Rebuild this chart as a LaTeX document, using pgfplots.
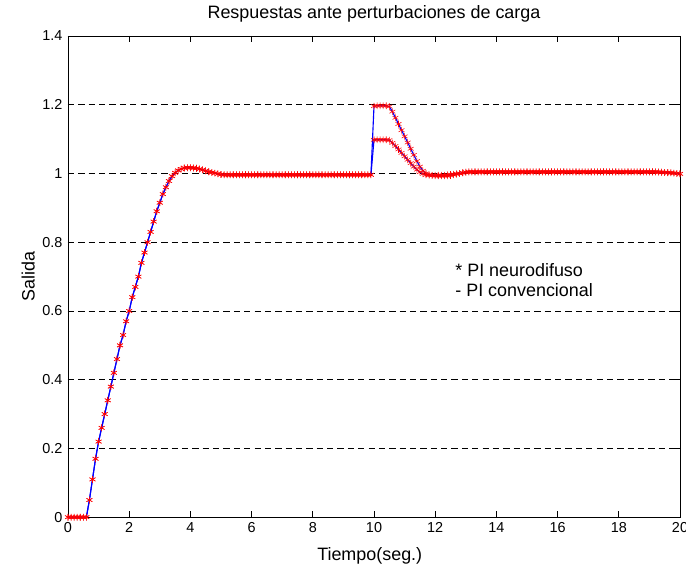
\documentclass[border=0pt]{standalone}
\usepackage{pgfplots}
\pgfplotsset{compat=1.18}
\usepackage{pgfplotstable}
\usepackage{fontspec}
\setmainfont{Liberation Sans}

\pgfplotstableread[row sep=\\]{
t a b\\
0 0 0\\ 0.1 0 0\\ 0.2 0 0\\ 0.3 0 0\\ 0.4 0 0\\ 0.5 0 0\\ 0.6 0 0\\
0.7 0.05 0.05\\ 0.8 0.11 0.11\\ 0.9 0.17 0.17\\ 1.0 0.22 0.22\\ 1.1 0.26 0.26\\
1.2 0.30 0.30\\ 1.3 0.34 0.34\\ 1.4 0.38 0.38\\ 1.5 0.42 0.42\\ 1.6 0.46 0.46\\
1.7 0.50 0.50\\ 1.8 0.53 0.53\\ 1.9 0.57 0.57\\ 2.0 0.60 0.60\\ 2.1 0.64 0.64\\
2.2 0.67 0.67\\ 2.3 0.70 0.70\\ 2.4 0.74 0.74\\ 2.5 0.77 0.77\\ 2.6 0.80 0.80\\
2.7 0.83 0.83\\ 2.8 0.86 0.86\\ 2.9 0.89 0.89\\ 3.0 0.915 0.915\\ 3.1 0.94 0.94\\
3.2 0.96 0.96\\ 3.3 0.978 0.978\\ 3.4 0.992 0.992\\ 3.5 1.002 1.002\\ 3.6 1.009 1.009\\
3.7 1.013 1.013\\ 3.8 1.016 1.016\\ 3.9 1.017 1.017\\ 4.0 1.017 1.017\\ 4.1 1.016 1.016\\
4.2 1.015 1.015\\ 4.3 1.013 1.013\\ 4.4 1.011 1.011\\ 4.5 1.008 1.008\\ 4.6 1.005 1.005\\
4.7 1.003 1.003\\ 4.8 1.001 1.001\\ 4.9 0.999 0.999\\ 5.0 0.997 0.997\\
5.1 0.996 0.996\\ 5.2 0.996 0.996\\ 5.3 0.996 0.996\\ 5.4 0.996 0.996\\ 5.5 0.996 0.996\\
5.6 0.996 0.996\\ 5.7 0.996 0.996\\ 5.8 0.996 0.996\\ 5.9 0.996 0.996\\ 6.0 0.996 0.996\\
6.1 0.996 0.996\\ 6.2 0.996 0.996\\ 6.3 0.996 0.996\\ 6.4 0.996 0.996\\ 6.5 0.996 0.996\\
6.6 0.996 0.996\\ 6.7 0.996 0.996\\ 6.8 0.996 0.996\\ 6.9 0.996 0.996\\ 7.0 0.996 0.996\\
7.1 0.996 0.996\\ 7.2 0.996 0.996\\ 7.3 0.996 0.996\\ 7.4 0.996 0.996\\ 7.5 0.996 0.996\\
7.6 0.996 0.996\\ 7.7 0.996 0.996\\ 7.8 0.996 0.996\\ 7.9 0.996 0.996\\ 8.0 0.996 0.996\\
8.1 0.996 0.996\\ 8.2 0.996 0.996\\ 8.3 0.996 0.996\\ 8.4 0.996 0.996\\ 8.5 0.996 0.996\\
8.6 0.996 0.996\\ 8.7 0.996 0.996\\ 8.8 0.996 0.996\\ 8.9 0.996 0.996\\ 9.0 0.996 0.996\\
9.1 0.996 0.996\\ 9.2 0.996 0.996\\ 9.3 0.996 0.996\\ 9.4 0.996 0.996\\ 9.5 0.996 0.996\\
9.6 0.996 0.996\\ 9.7 0.996 0.996\\ 9.8 0.996 0.996\\ 9.9 0.996 0.996\\
10.0 1.196 1.098\\ 10.1 1.197 1.098\\ 10.2 1.197 1.098\\ 10.3 1.197 1.098\\ 10.4 1.197 1.098\\
10.5 1.195 1.097\\ 10.6 1.180 1.089\\ 10.7 1.162 1.080\\ 10.8 1.144 1.070\\ 10.9 1.126 1.060\\
11.0 1.108 1.050\\ 11.1 1.090 1.040\\ 11.2 1.072 1.030\\ 11.3 1.054 1.020\\ 11.4 1.036 1.011\\
11.5 1.020 1.004\\ 11.6 1.008 0.999\\ 11.7 1.000 0.996\\ 11.8 0.996 0.995\\ 11.9 0.994 0.995\\
12.0 0.993 0.995\\ 12.1 0.993 0.995\\ 12.2 0.993 0.995\\ 12.3 0.993 0.995\\ 12.4 0.993 0.996\\
12.5 0.994 0.997\\ 12.6 0.996 0.998\\ 12.7 0.998 0.999\\ 12.8 1.000 1.000\\ 12.9 1.002 1.002\\
13.0 1.004 1.003\\ 13.1 1.005 1.004\\ 13.2 1.005 1.004\\ 13.3 1.005 1.004\\ 13.4 1.005 1.004\\
13.5 1.005 1.004\\ 13.6 1.005 1.004\\ 13.7 1.005 1.004\\ 13.8 1.005 1.004\\ 13.9 1.005 1.004\\
14.0 1.005 1.004\\ 14.1 1.005 1.004\\ 14.2 1.005 1.004\\ 14.3 1.005 1.004\\ 14.4 1.005 1.004\\
14.5 1.005 1.004\\ 14.6 1.005 1.004\\ 14.7 1.005 1.004\\ 14.8 1.005 1.004\\ 14.9 1.005 1.004\\
15.0 1.005 1.004\\ 15.1 1.005 1.004\\ 15.2 1.005 1.004\\ 15.3 1.005 1.004\\ 15.4 1.005 1.004\\
15.5 1.005 1.004\\ 15.6 1.005 1.004\\ 15.7 1.005 1.004\\ 15.8 1.005 1.004\\ 15.9 1.005 1.004\\
16.0 1.005 1.004\\ 16.1 1.005 1.004\\ 16.2 1.005 1.004\\ 16.3 1.005 1.004\\ 16.4 1.005 1.004\\
16.5 1.005 1.004\\ 16.6 1.005 1.004\\ 16.7 1.005 1.004\\ 16.8 1.005 1.004\\ 16.9 1.005 1.004\\
17.0 1.005 1.004\\ 17.1 1.005 1.004\\ 17.2 1.005 1.004\\ 17.3 1.005 1.004\\ 17.4 1.005 1.004\\
17.5 1.005 1.004\\ 17.6 1.005 1.004\\ 17.7 1.005 1.004\\ 17.8 1.005 1.004\\ 17.9 1.005 1.004\\
18.0 1.005 1.004\\ 18.1 1.005 1.004\\ 18.2 1.005 1.004\\ 18.3 1.005 1.004\\ 18.4 1.005 1.004\\
18.5 1.005 1.004\\ 18.6 1.005 1.004\\ 18.7 1.005 1.004\\ 18.8 1.005 1.004\\ 18.9 1.005 1.004\\
19.0 1.005 1.004\\ 19.1 1.005 1.004\\ 19.2 1.005 1.004\\ 19.3 1.004 1.004\\ 19.4 1.004 1.003\\
19.5 1.003 1.003\\ 19.6 1.003 1.002\\ 19.7 1.002 1.002\\ 19.8 1.001 1.001\\ 19.9 1.000 1.000\\
20.0 0.999 0.999\\
}\resp

\begin{document}
\begin{tikzpicture}
\begin{axis}[
  scale only axis,
  width=437pt, height=343.6pt,
  xmin=0, xmax=20, ymin=0, ymax=1.4,
  xtick={0,2,4,6,8,10,12,14,16,18,20},
  ytick={0,0.2,0.4,0.6,0.8,1,1.2,1.4},
  yticklabels={0,0.2,0.4,0.6,0.8,1,1.2,1.4},
  xticklabels={0,2,4,6,8,10,12,14,16,18,20},
  tick align=inside,
  major tick length=4.3pt,
  tick style={black, line width=0.6pt},
  ymajorgrids,
  grid style={black, line width=0.6pt, dash pattern=on 4.5pt off 2.9pt},
  axis line style={black, line width=0.7pt},
  /pgf/number format/assume math mode=true,
  tick label style={font=\fontsize{10.3}{12}\selectfont},
  yticklabel style={xshift=-0.5pt},
  title={Respuestas ante perturbaciones de carga},
  title style={font=\fontsize{12.8}{14}\selectfont, at={(axis description cs:0.5,1.0193)}, anchor=base, yshift=0pt},
  xlabel={Tiempo(seg.)},
  xlabel style={font=\fontsize{12.8}{14}\selectfont, at={(axis description cs:0.493,-0.0894)}, anchor=base},
  ylabel={Salida},
  ylabel style={font=\fontsize{12.8}{14}\selectfont, at={(axis description cs:-0.065,0.5)}, anchor=center, rotate=0},
  clip=false,
]
\coordinate (bbl) at (rel axis cs:-0.1111,-0.106);
\coordinate (bbr) at (rel axis cs:1.0098,1.0748);
\addplot[red, only marks, mark=asterisk, mark size=2.4pt, mark options={line width=0.4pt}] table[x=t, y=a] {\resp};
\addplot[red, only marks, mark=asterisk, mark size=2.4pt, mark options={line width=0.4pt}] table[x=t, y=b] {\resp};
\addplot[blue, line width=0.8pt, no marks] table[x=t, y=a] {\resp};
\addplot[blue, line width=0.8pt, no marks] table[x=t, y=b] {\resp};
\node[anchor=base west, inner sep=0pt, font=\fontsize{12.8}{14}\selectfont] at (axis cs:12.65,0.7014) {* PI neurodifuso};
\node[anchor=base west, inner sep=0pt, font=\fontsize{12.8}{14}\selectfont] at (axis cs:12.65,0.6412) {- PI convencional};
\end{axis}
\pgfresetboundingbox
\path[use as bounding box] (bbl) rectangle (bbr);
\end{tikzpicture}
\end{document}
